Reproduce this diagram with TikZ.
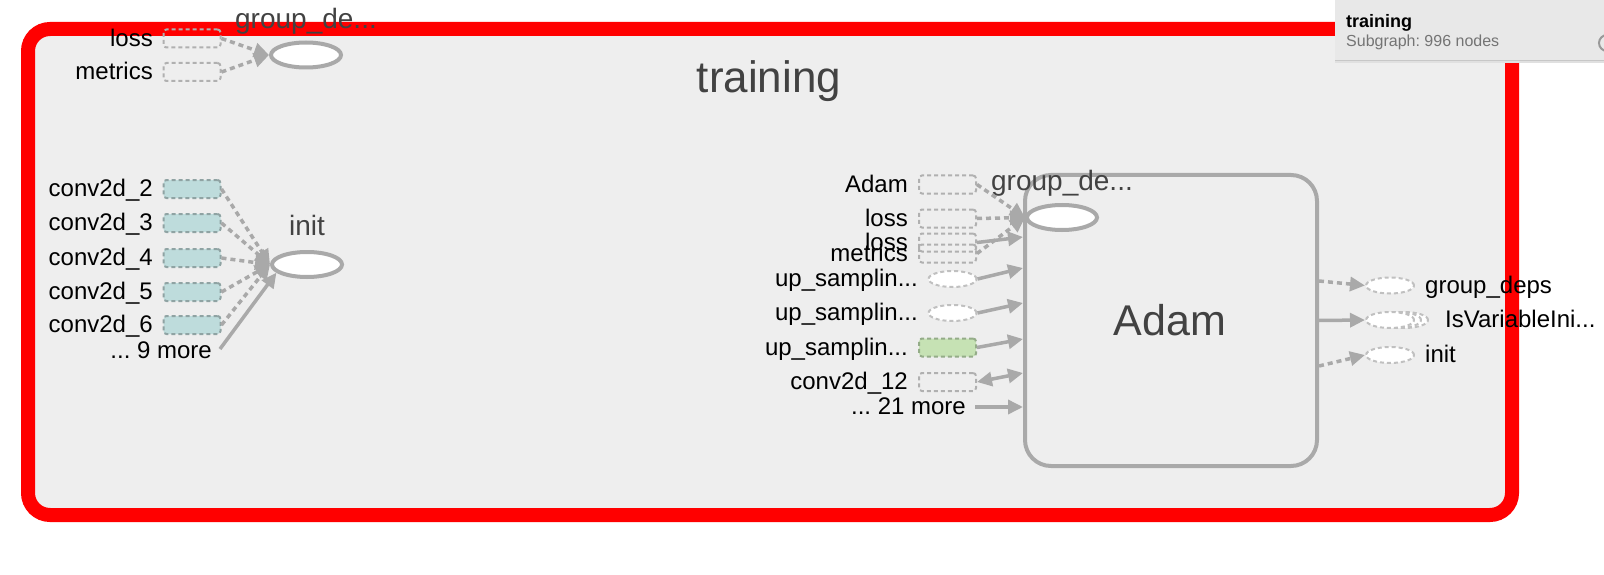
\documentclass[tikz,border=0pt]{standalone}
\usepackage{fontspec}
\setmainfont{Liberation Sans}
\usetikzlibrary{shapes.geometric,arrows.meta}

\definecolor{framered}{HTML}{FF0000}
\definecolor{bggray}{HTML}{EEEEEE}
\definecolor{edgegray}{HTML}{A9A9A9}
\definecolor{boxgray}{HTML}{B0B0B0}
\definecolor{tealfill}{HTML}{BEDCDC}
\definecolor{tealline}{HTML}{8FA3A3}
\definecolor{greenfill}{HTML}{C6E2B4}
\definecolor{greenline}{HTML}{94AC88}
\definecolor{labeltext}{HTML}{424242}
\definecolor{panelgray}{HTML}{E8E8E8}
\definecolor{subgray}{HTML}{747474}

\newcommand{\pxfont}[1]{\fontsize{#1pt}{#1pt}\selectfont}
\frenchspacing

\tikzset{
  sidelabel/.style={font=\pxfont{24}, text height=16.5pt, text depth=1pt, inner sep=0pt},
  nodelabel/.style={font=\pxfont{28}, text=labeltext, anchor=base, inner sep=0pt},
  opbox/.style={rectangle, rounded corners=3pt, minimum width=57pt, minimum height=18pt,
    inner sep=0pt, draw=boxgray, line width=2pt, dash pattern=on 4pt off 3pt},
  tealbox/.style={fill=tealfill, draw=tealline},
  greenbox/.style={fill=greenfill, draw=greenline},
  opell/.style={ellipse, minimum width=70pt, minimum height=25pt, inner sep=0pt,
    draw=edgegray, line width=4pt, fill=white},
  dashell/.style={ellipse, minimum width=48pt, minimum height=16pt, inner sep=0pt,
    draw=boxgray!80, line width=2pt, dash pattern=on 4pt off 3pt, fill=white},
  edgeline/.style={draw=edgegray, line width=3.5pt},
  dotedge/.style={edgeline, dash pattern=on 5pt off 4pt},
  headtip/.style={-{Triangle[length=15pt,width=14pt]}},
  bothtips/.style={{Triangle[length=15pt,width=14pt]}-{Triangle[length=15pt,width=14pt]}}
}

\begin{document}
\begin{tikzpicture}[x=1pt,y=-1pt]
  \useasboundingbox (0,0) rectangle (1604,575);
  % the training frame
  \draw[framered, line width=14pt, fill=bggray, rounded corners=22pt] (28,29) rectangle (1512,515);
  \node[font=\pxfont{44}, text=labeltext, anchor=base, inner sep=0pt] (title) at (769,93) {training};

  % top left: group_deps
  \node[sidelabel, anchor=east] (lossl) at (153,38.5) {loss};
  \node[opbox] (lossbox) at (192,38.5) {};
  \node[sidelabel, anchor=east] (metl) at (153,72) {metrics};
  \node[opbox] (metbox) at (192,72) {};
  \node[opell] (gde1) at (306,55) {};
  \node[nodelabel] (gde1l) at (306,29) {group\_de...};
  \draw[dotedge,headtip] (lossbox.east) -- (gde1.west);
  \draw[dotedge,headtip] (metbox.east) -- (gde1.west);

  % left: init
  \foreach \n/\y in {2/189,3/223,4/258,5/292,6/325} {
    \node[sidelabel, anchor=east] (cl\n) at (153,\y) {conv2d\_\n};
    \node[opbox, tealbox] (cb\n) at (192,\y) {};
  }
  \node[opell] (init) at (307,264.5) {};
  \node[nodelabel] (initl) at (307,235) {init};
  \foreach \n in {2,...,6}
    \draw[dotedge,headtip] (cb\n.east) -- (init.west);
  \node[sidelabel, anchor=east] (more9) at (212,351) {... 9 more};
  \draw[edgeline,headtip] ([xshift=8pt,yshift=2pt]more9.east) -- (init.195);

  % right: Adam
  \node[draw=edgegray, line width=4pt, rounded corners=26pt, minimum width=292pt,
    minimum height=291pt, inner sep=0pt] (adambox) at (1171,320.5) {};
  \node[font=\pxfont{43}, text=labeltext, anchor=base, inner sep=0pt] (adaml) at (1170,335) {Adam};
  \node[opell] (gde2) at (1062,217.5) {};
  \node[nodelabel] (gde2l) at (1062,190) {group\_de...};

  \node[sidelabel, anchor=east] (adamil) at (908,184.5) {Adam};
  \node[opbox] (adamb) at (947.5,184.5) {};
  \node[sidelabel, anchor=east] (lossal) at (908,218.5) {loss};
  \node[opbox] (lossa) at (947.5,218.5) {};
  \node[sidelabel, anchor=east] (lossbl) at (908,242.5) {loss};
  \node[opbox] (lossb) at (947.5,242.5) {};
  \node[sidelabel, anchor=east] (metal) at (908,253.5) {metrics};
  \node[opbox] (meta) at (947.5,253.5) {};
  \node[sidelabel, anchor=east] (up1l) at (918,279) {up\_samplin...};
  \node[dashell] (up1) at (952.5,279) {};
  \node[sidelabel, anchor=east] (up2l) at (918,313) {up\_samplin...};
  \node[dashell] (up2) at (952.5,313) {};
  \node[sidelabel, anchor=east] (up3l) at (908,347.5) {up\_samplin...};
  \node[opbox, greenbox] (up3) at (947.5,347.5) {};
  \node[sidelabel, anchor=east] (c12l) at (908,382) {conv2d\_12};
  \node[opbox] (c12) at (947.5,382) {};
  \node[sidelabel, anchor=east] (more21) at (966,407) {... 21 more};

  \coordinate (in1) at (1023,237);
  \coordinate (in2) at (1023,268);
  \coordinate (in3) at (1023,303);
  \coordinate (in4) at (1023,339);
  \coordinate (in5) at (1023,373);
  \coordinate (in6) at (1023,407);

  \draw[dotedge,headtip] (adamb.east) -- (gde2.west);
  \draw[dotedge,headtip] (lossa.east) -- (gde2.west);
  \draw[dotedge,headtip] (meta.east) -- (gde2.west);
  \draw[edgeline,headtip] (lossb.east) -- (in1);
  \draw[edgeline,headtip] (up1.east) -- (in2);
  \draw[edgeline,headtip] (up2.east) -- (in3);
  \draw[edgeline,headtip] (up3.east) -- (in4);
  \draw[edgeline,bothtips] (c12.east) -- (in5);
  \draw[edgeline,headtip] ([xshift=9pt]more21.east) -- (in6);

  % outputs
  \node[dashell] (isvar3) at (1404,320) {};
  \node[dashell] (isvar2) at (1397,320) {};
  \node[dashell] (isvar) at (1390,320) {};
  \node[dashell] (gdo) at (1390,285.5) {};
  \node[dashell] (inito) at (1390,355) {};
  \node[sidelabel, anchor=west] (gdol) at (1425,285.5) {group\_deps};
  \node[sidelabel, anchor=west] (isvarl) at (1445,320) {IsVariableIni...};
  \node[sidelabel, anchor=west] (initol) at (1425,355) {init};
  \draw[dotedge,headtip] ([yshift=39.5pt]adambox.east) -- (gdo.west);
  \draw[edgeline,headtip] (adambox.east) -- (isvar.west);
  \draw[dotedge,headtip] ([yshift=-45.5pt]adambox.east) -- (inito.west);

  % info panel
  \fill[black!22] (1335,60) rectangle (1604,61.5);
  \fill[black!12] (1335,61.5) rectangle (1604,63);
  \fill[panelgray] (1335,0) rectangle (1604,60);
  \node[anchor=base west, inner sep=0pt, font=\bfseries\pxfont{18}] (infoname) at (1346,28) {training};
  \node[anchor=base west, inner sep=0pt, font=\pxfont{16}, text=subgray] (infocount) at (1346,47) {Subgraph: 996 nodes};
  \begin{scope}
    \clip (1335,0) rectangle (1604,60);
    \draw[black!40, line width=2pt] (1607,43) circle (8);
  \end{scope}
\end{tikzpicture}
\end{document}
